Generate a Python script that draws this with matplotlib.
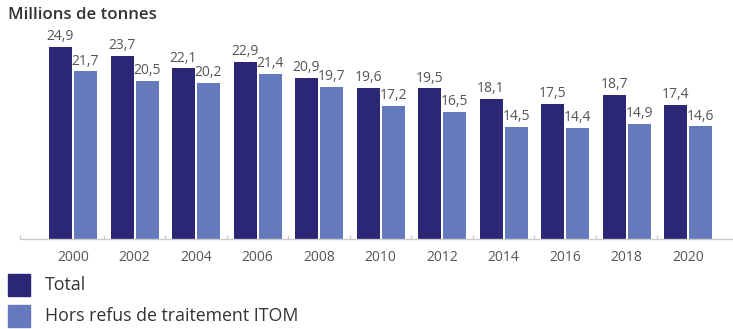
import matplotlib
matplotlib.use('Agg')
import matplotlib.pyplot as plt
import numpy as np

years = ['2000', '2002', '2004', '2006', '2008', '2010', '2012', '2014', '2016', '2018', '2020']
total = [24.9, 23.7, 22.1, 22.9, 20.9, 19.6, 19.5, 18.1, 17.5, 18.7, 17.4]
hors_refus = [21.7, 20.5, 20.2, 21.4, 19.7, 17.2, 16.5, 14.5, 14.4, 14.9, 14.6]
series_names = ['Total', 'Hors refus de traitement ITOM']

dark = '#2b2676'
light = '#6579bd'
txt = '#333333'
grey = '#555555'

plt.rcParams['font.family'] = ['Open Sans', 'DejaVu Sans']

fig = plt.figure(figsize=(7.33, 3.29), dpi=100)
# axes placed in pixels: left 20, right 733, baseline at y=239
ax = fig.add_axes([20 / 733, 1 - 239 / 329, 713 / 733, 0.66])

x = np.arange(len(years))
w = 0.374
off = 0.203
b1 = ax.bar(x - off, total, w, color=dark)
b2 = ax.bar(x + off, hors_refus, w, color=light)

def fmt(v):
    return f"{v:.1f}".replace('.', ',')

for bars in (b1, b2):
    for bar in bars:
        h = bar.get_height()
        ax.annotate(fmt(h), (bar.get_x() + bar.get_width() / 2, h),
                    xytext=(0, 2), textcoords='offset points',
                    ha='center', va='bottom', fontsize=10, color=grey,
                    annotation_clip=False)

ax.set_xlim(-0.862, 10.73)
ax.set_ylim(0, 0.66 * 329 / 7.72)

ax.set_xticks(x)
ax.set_xticklabels(years, fontsize=10, color=grey)
ax.tick_params(axis='x', which='major', length=0, pad=8)
ax.set_xticks([-0.862] + [i + 0.5 for i in range(len(years) - 1)], minor=True)
ax.tick_params(axis='x', which='minor', length=3, direction='in', color='#cccccc', width=1)
ax.set_yticks([])

for s in ['top', 'right', 'left']:
    ax.spines[s].set_visible(False)
ax.spines['bottom'].set_color('#cccccc')
ax.spines['bottom'].set_linewidth(1)

fig.text(8 / 733, 1 - 15 / 329, 'Millions de tonnes', fontsize=12.2, fontweight='semibold',
         color=txt, ha='left', va='center')

# legend drawn as squares + text
for i, (name, col) in enumerate(zip(series_names, [dark, light])):
    yc = 285 + i * 31
    fig.patches.append(plt.Rectangle((8 / 733, 1 - (yc + 11) / 329), 22 / 733, 22 / 329,
                                     transform=fig.transFigure, color=col, figure=fig))
    fig.text(45 / 733, 1 - yc / 329, name, fontsize=12.8, color=txt, ha='left', va='center')

plt.savefig('out.png', dpi=100)
